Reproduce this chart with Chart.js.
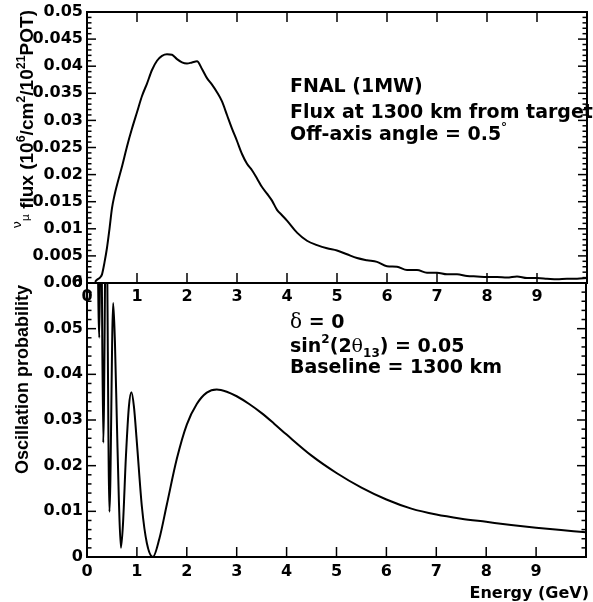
<!DOCTYPE html>
<html>
<head>
<meta charset="utf-8">
<script src="https://cdn.jsdelivr.net/npm/chart.js@4.4.1/dist/chart.umd.min.js"></script>
<style>
  body { margin: 0; background: #fff; }
  #wrap { position: relative; width: 593px; height: 602px; }
  canvas { position: absolute; left: 0; top: 0; }
</style>
</head>
<body>
<div id="wrap">
  <canvas id="probChart" width="593" height="602"></canvas>
  <canvas id="fluxChart" width="593" height="602"></canvas>
</div>
<script>
// flux at 1300 km (top panel)
const fluxEnergy = [0.16, 0.2, 0.26, 0.3, 0.35, 0.4, 0.45, 0.5, 0.55, 0.6, 0.7, 0.8, 0.9, 1.0,
  1.1, 1.2, 1.3, 1.4, 1.5, 1.6, 1.7, 1.8, 1.9, 2.0, 2.1, 2.2, 2.3, 2.4, 2.5, 2.6, 2.7, 2.8, 2.9, 3.0,
  3.1, 3.2, 3.3, 3.4, 3.5, 3.6, 3.7, 3.8, 3.9, 4.0, 4.2, 4.4, 4.6, 4.8, 5.0, 5.2, 5.4, 5.6, 5.8, 6.0,
  6.2, 6.4, 6.6, 6.8, 7.0, 7.2, 7.4, 7.6, 7.8, 8.0, 8.2, 8.4, 8.6, 8.8, 9.0, 9.2, 9.4, 9.6, 9.8, 10.0];
const fluxValues = [0.0002, 0.0006, 0.001, 0.0016, 0.0038, 0.0065, 0.01, 0.0138, 0.0162, 0.0181,
  0.0215, 0.0252, 0.0285, 0.0315,
  0.0345, 0.0368, 0.0393, 0.041, 0.0419, 0.0422, 0.0421, 0.0413, 0.0407, 0.0405,
  0.0407, 0.0409, 0.0395, 0.0378, 0.0366, 0.0352, 0.0335, 0.031, 0.0285, 0.0262,
  0.0238, 0.022, 0.0208, 0.0193, 0.0177, 0.0165, 0.0152, 0.0135, 0.0125, 0.0115,
  0.0093, 0.0078, 0.007, 0.0064, 0.006, 0.0053, 0.0046, 0.0042, 0.0039, 0.0031,
  0.003, 0.0024, 0.0024, 0.0019, 0.0019, 0.0016, 0.0016, 0.0013, 0.0012, 0.0011,
  0.0011, 0.001, 0.0012, 0.0009, 0.0009, 0.0008, 0.0007, 0.0008, 0.0008, 0.0009];

// oscillation probability (bottom panel), values above 0.06 get clipped
const probEnergy = [0.2, 0.246, 0.28, 0.326, 0.385, 0.45, 0.525, 0.56, 0.6, 0.64, 0.68, 0.72, 0.78,
  0.84, 0.89, 0.94, 1.0, 1.1, 1.2, 1.32, 1.45, 1.6, 1.8, 2.0, 2.2, 2.4, 2.6, 2.8, 3.0, 3.25, 3.5,
  3.75, 4.0, 4.5, 5.0, 5.5, 6.0, 6.5, 7.0, 7.5, 8.0, 8.5, 9.0, 9.5, 10.0];
const probValues = [0.08, 0.048, 0.08, 0.025, 0.08, 0.0099, 0.0556, 0.047, 0.029, 0.012, 0.002, 0.007, 0.022,
  0.033, 0.0361, 0.033, 0.025, 0.011, 0.003, 0.0, 0.004, 0.0115, 0.0215, 0.029, 0.0335, 0.036, 0.0367,
  0.0362, 0.0352, 0.0335, 0.0315, 0.0292, 0.0268, 0.0222, 0.0184, 0.0152, 0.0126, 0.0106, 0.0093,
  0.0084, 0.0077, 0.007, 0.0064, 0.0059, 0.0054];

const TICK_FONT = { family: "DejaVu Sans", size: 16, weight: "bold", lineHeight: 1 };
const fmt = (v) => String(+Number(v).toFixed(4));
const B = (s) => "bold " + s + 'px "Liberation Sans"';
const D = (s) => "bold " + s + 'px "DejaVu Sans"';

function toPoints(xs, ys) {
  return xs.map((x, i) => ({ x: x, y: ys[i] }));
}

function line(ctx, x1, y1, x2, y2) {
  ctx.beginPath();
  ctx.moveTo(x1, y1);
  ctx.lineTo(x2, y2);
  ctx.stroke();
}

function drawRich(ctx, parts, x, y, align) {
  let total = 0;
  parts.forEach((p) => {
    ctx.font = p.font;
    p.w = ctx.measureText(p.t).width;
    total += p.w;
  });
  let cx = align === "right" ? x - total : x;
  ctx.textAlign = "left";
  parts.forEach((p) => {
    ctx.font = p.font;
    ctx.fillText(p.t, cx, y + (p.dy || 0));
    cx += p.w;
  });
}

function drawRotated(ctx, parts, x, y) {
  ctx.save();
  ctx.translate(x, y);
  ctx.rotate(-Math.PI / 2);
  drawRich(ctx, parts, 0, 0, "right");
  ctx.restore();
}

// frame and inward ticks, ROOT style
function frameTicks(minorStep, perMajor, topTicks) {
  return {
    id: "frameTicks",
    afterDatasetsDraw(chart) {
      const { ctx, chartArea: a, scales } = chart;
      const x = scales.x, y = scales.y;
      ctx.save();
      ctx.strokeStyle = "#000";
      ctx.lineWidth = 1.5;
      for (let v = 1; v < 10; v++) {
        const px = x.getPixelForValue(v);
        line(ctx, px, a.bottom, px, a.bottom - 10);
        if (topTicks) line(ctx, px, a.top, px, a.top + 10);
      }
      const n = Math.round((y.max - y.min) / minorStep);
      for (let i = 1; i < n; i++) {
        const py = y.getPixelForValue(y.min + i * minorStep);
        const len = i % perMajor === 0 ? 9 : 4.5;
        line(ctx, a.left, py, a.left + len, py);
        line(ctx, a.right, py, a.right - len, py);
      }
      ctx.lineWidth = 2;
      ctx.strokeRect(a.left, a.top, a.right - a.left, a.bottom - a.top);
      ctx.restore();
    }
  };
}

const fluxText = {
  id: "fluxText",
  afterDraw(chart) {
    const ctx = chart.ctx;
    ctx.save();
    ctx.fillStyle = "#000";
    ctx.textBaseline = "alphabetic";
    drawRotated(ctx, [
      { t: "\u03bd", font: '13px "DejaVu Sans"', dy: -12 },
      { t: "\u03bc", font: '11px "DejaVu Sans"', dy: -4 },
      { t: " flux (10", font: B(19) },
      { t: "6", font: B(12.5), dy: -8 },
      { t: "/cm", font: B(19) },
      { t: "2", font: B(12.5), dy: -8 },
      { t: "/10", font: B(19) },
      { t: "21", font: B(12.5), dy: -8 },
      { t: "POT)", font: B(19) }
    ], 33, 10);
    drawRich(ctx, [{ t: "FNAL (1MW)", font: D(19) }], 290, 92);
    drawRich(ctx, [{ t: "Flux at 1300 km from target", font: D(19) }], 290, 118);
    drawRich(ctx, [
      { t: "Off-axis angle = 0.5", font: D(19) },
      { t: "\u00b0", font: D(12), dy: -9 }
    ], 290, 140);
    ctx.restore();
  }
};

const probText = {
  id: "probText",
  afterDraw(chart) {
    const ctx = chart.ctx;
    ctx.save();
    ctx.fillStyle = "#000";
    ctx.textBaseline = "alphabetic";
    drawRotated(ctx, [{ t: "Oscillation probability", font: B(18) }], 28, 285);
    drawRich(ctx, [
      { t: "\u03b4", font: '20px "DejaVu Serif"' },
      { t: " = 0", font: D(19) }
    ], 290, 328);
    drawRich(ctx, [
      { t: "sin", font: D(19) },
      { t: "2", font: D(12), dy: -9 },
      { t: "(2", font: D(19) },
      { t: "\u03b8", font: '19px "DejaVu Serif"' },
      { t: "13", font: D(12), dy: 5 },
      { t: ") = 0.05", font: D(19) }
    ], 290, 352);
    drawRich(ctx, [{ t: "Baseline = 1300 km", font: D(19) }], 290, 373);
    drawRich(ctx, [{ t: "Energy (GeV)", font: D(16) }], 589, 598, "right");
    ctx.restore();
  }
};

function axes(yMax, yStep, xHeight, xPad) {
  return {
    x: {
      type: "linear", min: 0, max: 10,
      afterFit: (s) => { s.height = xHeight; },
      grid: { display: false, drawTicks: false },
      border: { display: false },
      ticks: {
        stepSize: 1, autoSkip: false, maxRotation: 0, padding: xPad,
        color: "#000", font: TICK_FONT,
        callback: (v) => (v < 10 ? String(v) : "")
      }
    },
    y: {
      min: 0, max: yMax,
      afterFit: (s) => { s.width = 87; },
      grid: { display: false, drawTicks: false },
      border: { display: false },
      ticks: { stepSize: yStep, padding: 4, color: "#000", font: TICK_FONT, callback: fmt }
    }
  };
}

new Chart(document.getElementById("probChart"), {
  type: "line",
  data: {
    datasets: [{
      data: toPoints(probEnergy, probValues),
      borderColor: "#000", borderWidth: 2, pointRadius: 0,
      cubicInterpolationMode: "monotone", fill: false
    }]
  },
  options: {
    responsive: false,
    animation: false,
    layout: { padding: { top: 283, right: 5, left: 0, bottom: 0 } },
    plugins: { legend: { display: false }, tooltip: { enabled: false } },
    scales: axes(0.06, 0.01, 45, 7)
  },
  plugins: [frameTicks(0.002, 5, false), probText]
});

new Chart(document.getElementById("fluxChart"), {
  type: "line",
  data: {
    datasets: [{
      data: toPoints(fluxEnergy, fluxValues),
      borderColor: "#000", borderWidth: 2, pointRadius: 0,
      cubicInterpolationMode: "monotone", fill: false
    }]
  },
  options: {
    responsive: false,
    animation: false,
    layout: { padding: { top: 9, right: 5, left: 0, bottom: 0 } },
    plugins: { legend: { display: false }, tooltip: { enabled: false } },
    scales: axes(0.05, 0.005, 319, 6)
  },
  plugins: [frameTicks(0.001, 5, true), fluxText]
});
</script>
</body>
</html>
